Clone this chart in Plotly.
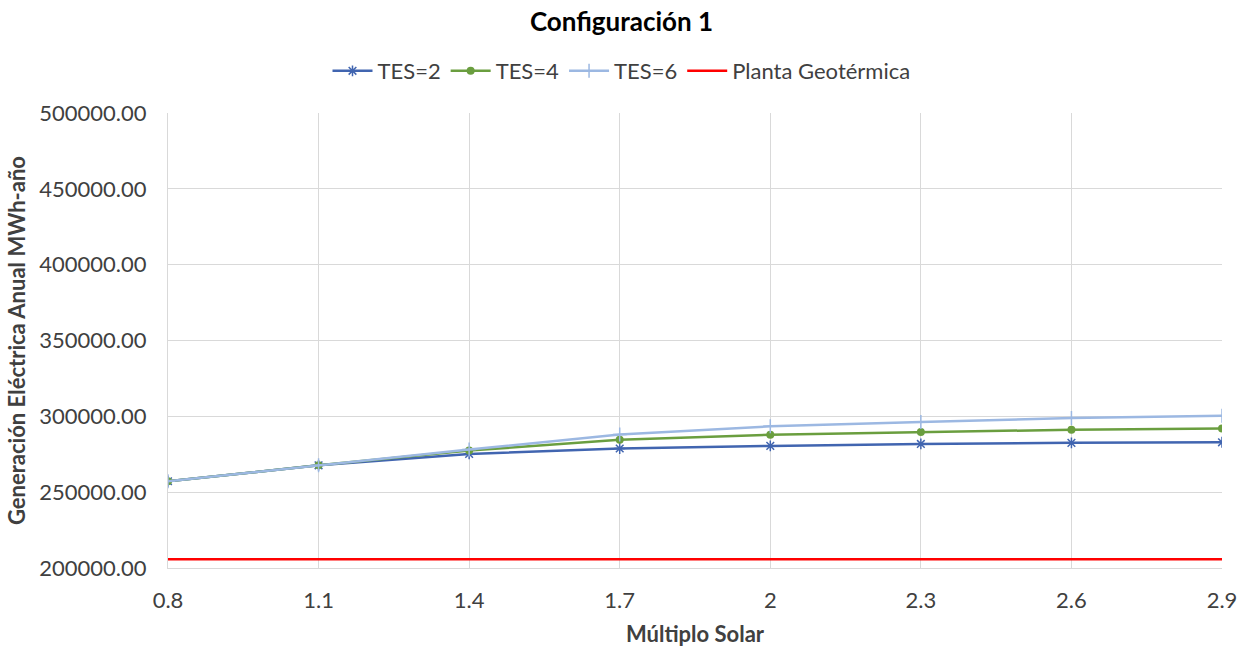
import plotly.graph_objects as go

# Solar multiple categories (x axis)
multiplo_solar = ["0.8", "1.1", "1.4", "1.7", "2", "2.3", "2.6", "2.9"]

# Annual electricity generation, MWh-año
tes_2 = [257200, 267700, 275200, 278800, 280500, 281800, 282500, 282900]
tes_4 = [257200, 267700, 277400, 284500, 287800, 289700, 291200, 291900]
tes_6 = [257200, 267700, 278100, 288000, 293400, 296300, 298900, 300400]
planta_geotermica = [205800] * len(multiplo_solar)

y_ticks = [200000, 250000, 300000, 350000, 400000, 450000, 500000]

FONT = "Lato"
TEXT = "#404040"

fig = go.Figure()

fig.add_trace(go.Scatter(
    x=multiplo_solar, y=tes_2, name="TES=2", mode="lines+markers",
    line=dict(color="#4165B0", width=2.5),
    marker=dict(symbol="asterisk-open", size=9, color="#4165B0",
                line=dict(color="#4165B0", width=1.5)),
))
fig.add_trace(go.Scatter(
    x=multiplo_solar, y=tes_4, name="TES=4", mode="lines+markers",
    line=dict(color="#6A9E3F", width=2.5),
    marker=dict(symbol="circle", size=8, color="#6A9E3F"),
))
fig.add_trace(go.Scatter(
    x=multiplo_solar, y=tes_6, name="TES=6", mode="lines+markers",
    line=dict(color="#9CB8E2", width=2.5),
    marker=dict(symbol="cross-thin-open", size=10, color="#9CB8E2",
                line=dict(color="#9CB8E2", width=1.5)),
))
fig.add_trace(go.Scatter(
    x=multiplo_solar, y=planta_geotermica, name="Planta Geotérmica", mode="lines",
    line=dict(color="#FF0000", width=2.5),
))

fig.update_layout(
    width=1243, height=648,
    margin=dict(l=168, r=21, t=113, b=80, autoexpand=False),
    paper_bgcolor="white", plot_bgcolor="white",
    font=dict(family=FONT, color=TEXT, size=22),
    title=dict(text="<b>Configuración 1</b>", x=0.5, xanchor="center",
               xref="container",
               y=1 - 22 / 648, yanchor="middle", yref="container",
               font=dict(family=FONT, size=26, color="black")),
    legend=dict(orientation="h", x=0.5, xanchor="center", xref="container",
                y=1 - 71 / 648, yanchor="middle", yref="container",
                font=dict(family=FONT, size=22, color=TEXT),
                itemwidth=40, tracegroupgap=0),
    showlegend=True,
)

fig.update_xaxes(
    type="category", range=[0, len(multiplo_solar) - 1],
    automargin=False,
    showgrid=True, gridcolor="#D9D9D9", gridwidth=1,
    showline=True, linecolor="#D9D9D9", linewidth=1,
    ticks="outside", ticklen=13, tickcolor="rgba(0,0,0,0)",
    tickfont=dict(family=FONT, size=22, color=TEXT),
    title=dict(text="<b>Múltiplo Solar</b>", standoff=14,
               font=dict(family=FONT, size=22, color=TEXT)),
    zeroline=False,
)
fig.update_yaxes(
    range=[200000, 500000], tickvals=y_ticks, tickformat=".2f",
    automargin=False,
    showgrid=True, gridcolor="#D9D9D9", gridwidth=1,
    showline=True, linecolor="#D9D9D9", linewidth=1,
    ticks="outside", ticklen=16, tickcolor="rgba(0,0,0,0)",
    tickfont=dict(family=FONT, size=22, color=TEXT),
    title=dict(text="<b>Generación Eléctrica Anual MWh-año</b>", standoff=7,
               font=dict(family=FONT, size=22, color=TEXT)),
    zeroline=False,
)

fig.write_html("out.html")
